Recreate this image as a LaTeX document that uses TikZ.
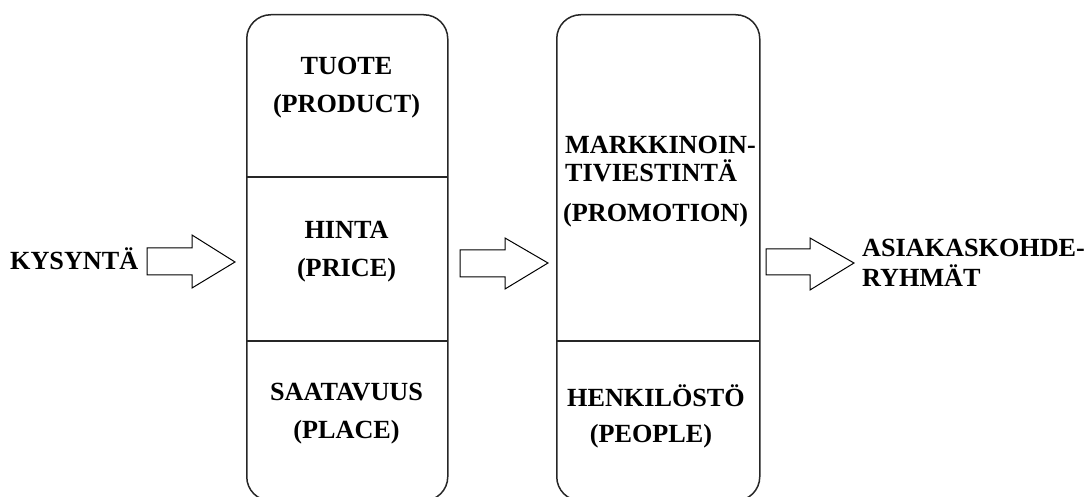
\documentclass[tikz,border=0pt]{standalone}
\usepackage{fontspec}
\setmainfont{Liberation Serif}
\begin{document}
\begin{tikzpicture}[x=1pt,y=-1pt,
  panel/.style={draw=black!85, line width=1.5pt, rounded corners=24pt, minimum width=201pt, minimum height=486pt, anchor=north west, inner sep=0pt},
  divider/.style={draw=black!85, line width=1.5pt},
  fatarrow/.style={draw=black, line width=1pt, fill=white, line join=miter},
  lbl/.style={font=\fontsize{26.2}{30}\selectfont\bfseries, inner sep=0pt, text=black}]
\useasboundingbox (0,0) rectangle (1088,497);
% panels
\node[panel] (box1) at (246,14) {};
\node[panel, minimum width=203pt] (box2) at (556,14) {};
% dividers
\coordinate (d1l) at (246,177); \coordinate (d1r) at (447,177);
\coordinate (d2l) at (246,341); \coordinate (d2r) at (447,341);
\coordinate (d3l) at (556,341); \coordinate (d3r) at (759,341);
\draw[divider] (d1l) -- (d1r);
\draw[divider] (d2l) -- (d2r);
\draw[divider] (d3l) -- (d3r);
% arrows
\draw[fatarrow] (147,248) -- (192,248) -- (192,235) -- (235,262) -- (192,288) -- (192,275) -- (147,275) -- cycle;
\draw[fatarrow] (460,250) -- (505,250) -- (505,238) -- (548,263) -- (505,289) -- (505,277) -- (460,277) -- cycle;
\draw[fatarrow] (766,249) -- (810,249) -- (810,238) -- (854,263) -- (810,290) -- (810,275) -- (766,275) -- cycle;
% texts
\node[lbl, anchor=base west] (kys) at (10,270) {KYSYNTÄ};
\node[lbl, anchor=base] (tuote) at (346.5,75) {TUOTE};
\node[lbl, anchor=base] (product) at (346.5,113) {(PRODUCT)};
\node[lbl, anchor=base] (hinta) at (346.5,239) {HINTA};
\node[lbl, anchor=base] (price) at (346.5,277) {(PRICE)};
\node[lbl, anchor=base] (saat) at (346.5,400) {SAATAVUUS};
\node[lbl, anchor=base] (place) at (346.5,438) {(PLACE)};
\node[lbl, anchor=base west] (mark1) at (565,154) {MARKKINOIN-};
\node[lbl, anchor=base west] (mark2) at (565,182) {TIVIESTINTÄ};
\node[lbl, anchor=base west] (promo) at (563,222) {(PROMOTION)};
\node[lbl, anchor=base] (henk) at (656,406) {HENKILÖSTÖ};
\node[lbl, anchor=base] (people) at (651,442) {(PEOPLE)};
\node[lbl, anchor=base west] (asia1) at (862,257) {ASIAKASKOHDE-};
\node[lbl, anchor=base west] (asia2) at (862,287) {RYHMÄT};
\end{tikzpicture}
\end{document}
